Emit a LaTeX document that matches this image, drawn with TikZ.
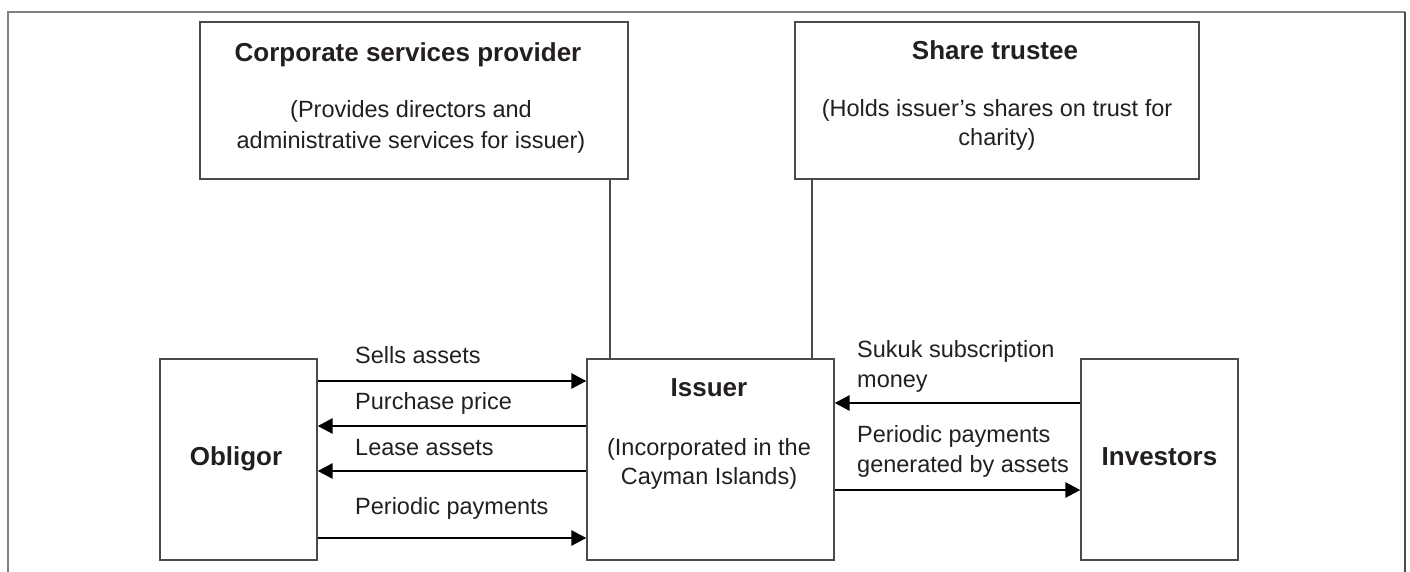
\documentclass[tikz,border=0pt]{standalone}
\usepackage{fontspec}
\setmainfont{Liberation Sans}
\usetikzlibrary{arrows.meta}
\definecolor{ink}{HTML}{231F20}
\definecolor{boxline}{HTML}{4A4A4A}
\begin{document}
\begin{tikzpicture}[x=1pt,y=-1pt,
  box/.style={draw=boxline,line width=1.3pt,inner sep=0pt},
  ttl/.style={inner sep=0pt,anchor=base,text=ink,font=\fontsize{26}{30}\selectfont\bfseries},
  txt/.style={inner sep=0pt,anchor=base,text=ink,font=\fontsize{23.5}{30}\selectfont},
  lbl/.style={inner sep=0pt,anchor=base west,text=ink,font=\fontsize{23.5}{30}\selectfont},
  arr/.style={draw=black,line width=2.8pt,-{Triangle[length=15pt,width=15pt]}},
  link/.style={draw=boxline,line width=1.2pt}]
\useasboundingbox (0,0) rectangle (1410,572);
% outer frame (open at bottom)
\draw[draw=gray,line width=1.8pt] (8,572) -- (8,12) -- (1405,12);
\draw[draw=boxline,line width=1.8pt] (1405,12) -- (1405,572);
% boxes
\node[box,minimum width=428pt,minimum height=157pt] (corp) at (414,100.5) {};
\node[box,minimum width=404pt,minimum height=157pt] (share) at (997,100.5) {};
\node[box,minimum width=247pt,minimum height=201pt] (issuer) at (710.5,459.5) {};
\node[box,minimum width=157pt,minimum height=201pt] (obligor) at (238.5,459.5) {};
\node[box,minimum width=157pt,minimum height=201pt] (investors) at (1159.5,459.5) {};
% box texts
\node[ttl] (corpT) at (408,62) {Corporate services provider};
\node[txt] (corpD1) at (411,118) {(Provides directors and};
\node[txt] (corpD2) at (411,149) {administrative services for issuer)};
\node[ttl] (shareT) at (995,60) {Share trustee};
\node[txt] (shareD1) at (997,117) {(Holds issuer’s shares on trust for};
\node[txt] (shareD2) at (997,146) {charity)};
\node[ttl] (issuerT) at (709,396) {Issuer};
\node[txt] (issuerD1) at (709,455) {(Incorporated in the};
\node[txt] (issuerD2) at (709,484) {Cayman Islands)};
\node[ttl] (obligorT) at (236,465) {Obligor};
\node[ttl] (investorsT) at (1159.5,465) {Investors};
% vertical links
\coordinate (c1) at (610,0);
\coordinate (c2) at (812,0);
\draw[link] (corp.south -| c1) -- (issuer.north -| c1);
\draw[link] (share.south -| c2) -- (issuer.north -| c2);
% arrows left
\coordinate (y1) at (0,381);
\coordinate (y2) at (0,426);
\coordinate (y3) at (0,471);
\coordinate (y4) at (0,538);
\draw[arr] (obligor.east |- y1) -- (issuer.west |- y1);
\draw[arr] (issuer.west |- y2) -- (obligor.east |- y2);
\draw[arr] (issuer.west |- y3) -- (obligor.east |- y3);
\draw[arr] (obligor.east |- y4) -- (issuer.west |- y4);
\node[lbl] (l1) at (355,363) {Sells assets};
\node[lbl] (l2) at (355,409) {Purchase price};
\node[lbl] (l3) at (355,455) {Lease assets};
\node[lbl] (l4) at (355,514) {Periodic payments};
% arrows right
\coordinate (y5) at (0,403);
\coordinate (y6) at (0,490);
\draw[arr] (investors.west |- y5) -- (issuer.east |- y5);
\draw[arr] (issuer.east |- y6) -- (investors.west |- y6);
\node[lbl] (r1) at (857,357) {Sukuk subscription};
\node[lbl] (r2) at (857,387) {money};
\node[lbl] (r3) at (857,442) {Periodic payments};
\node[lbl] (r4) at (857,472) {generated by assets};
\end{tikzpicture}
\end{document}
